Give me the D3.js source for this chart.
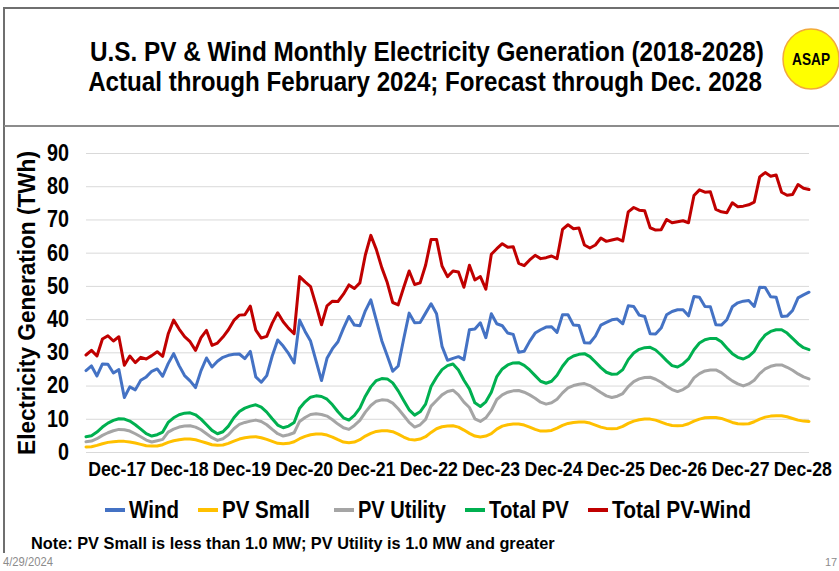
<!DOCTYPE html>
<html>
<head>
<meta charset="utf-8">
<script src="https://cdn.jsdelivr.net/npm/d3@7"></script>
<style>
  body { margin: 0; background: #fff; }
  svg { display: block; font-family: "Liberation Sans Narrow", "Arial Narrow", "Liberation Sans", Arial, sans-serif; }
</style>
</head>
<body>
<svg id="chart" width="839" height="571"></svg>
<script>
// Monthly values, Dec-17 .. Dec-28 (TWh)
var wind = [24.5,
  25.9,22.9,26.5,26.4,23.8,24.8,16.4,19.6,18.7,21.6,22.6,24.3,
  25.0,22.8,26.6,29.6,26.0,23.0,21.4,19.4,24.5,28.3,25.6,27.3,
  28.5,29.1,29.4,29.5,28.1,30.3,22.6,21.0,23.0,28.9,33.7,31.9,
  29.6,26.8,39.7,36.3,33.4,27.4,21.5,28.2,31.1,33.2,37.2,40.8,
  38.2,38.0,42.5,45.8,39.7,33.5,29.0,24.3,25.9,34.0,41.8,38.9,
  39.0,41.8,44.6,41.6,31.8,27.6,28.2,28.7,27.8,36.8,37.0,38.9,
  34.4,41.6,38.6,38.0,35.8,35.4,30.0,30.3,33.3,35.8,36.8,37.6,
  37.7,36.0,41.3,41.3,38.2,38.1,32.9,32.8,34.9,38.2,39.0,39.8,
  40.0,38.6,44.0,43.8,41.2,40.8,35.6,35.5,37.3,41.3,42.3,42.8,
  42.8,41.0,46.8,46.6,43.8,43.7,38.3,38.2,39.8,43.7,44.9,45.4,
  45.6,43.8,49.6,49.5,46.7,46.6,40.8,40.9,42.6,46.4,47.3,48.1];

var pvSmall = [1.5,
  1.6,2.0,2.5,2.9,3.1,3.2,3.2,3.0,2.7,2.3,1.9,1.8,
  1.8,2.2,2.9,3.4,3.7,3.9,3.9,3.7,3.2,2.7,2.2,2.0,
  2.1,2.6,3.3,3.9,4.3,4.5,4.6,4.3,3.8,3.2,2.6,2.5,
  2.6,3.1,4.0,4.7,5.2,5.4,5.4,5.1,4.5,3.7,3.0,2.8,
  3.0,3.7,4.8,5.6,6.2,6.4,6.4,6.1,5.4,4.5,3.8,3.6,
  3.9,4.6,5.9,7.0,7.6,7.8,7.9,7.5,6.6,5.6,4.8,4.5,
  4.8,5.5,6.9,7.8,8.2,8.4,8.4,8.1,7.5,6.8,6.3,6.3,
  6.5,7.2,8.0,8.6,8.9,9.0,9.0,8.7,8.1,7.5,7.1,7.0,
  7.1,7.7,8.6,9.3,9.7,9.9,9.9,9.6,9.0,8.4,8.0,7.9,
  8.0,8.5,9.3,9.9,10.3,10.4,10.4,10.1,9.5,8.9,8.5,8.4,
  8.5,9.1,9.9,10.5,10.8,10.9,10.9,10.6,10.1,9.6,9.3,9.2];

var pvUtility = [3.1,
  3.3,4.0,5.0,5.8,6.4,6.8,6.7,6.3,5.5,4.6,3.6,3.0,
  3.4,3.8,6.0,6.9,7.5,7.8,7.9,7.5,6.7,5.5,4.3,3.5,
  4.0,5.2,7.0,8.3,8.9,9.3,9.6,9.2,8.2,6.8,5.5,4.8,
  5.2,5.8,9.2,10.4,11.3,11.5,11.3,10.8,9.7,8.4,7.3,6.8,
  8.0,9.5,12.0,14.0,15.3,15.7,15.6,14.7,13.0,11.0,8.9,7.5,
  8.2,9.8,13.8,15.5,17.2,18.2,18.6,17.2,15.0,13.4,10.0,9.2,
  10.3,12.5,15.8,17.2,18.0,18.4,18.5,18.0,17.2,16.2,15.0,14.4,
  14.8,15.9,17.8,19.3,20.0,20.4,20.6,20.0,19.0,17.9,16.9,16.4,
  16.8,17.6,19.7,21.2,22.0,22.4,22.5,21.9,21.0,19.8,18.8,18.2,
  18.8,19.9,22.3,23.6,24.4,24.7,24.7,23.9,22.6,21.4,20.5,19.9,
  20.5,21.6,23.6,25.0,25.8,26.2,26.2,25.5,24.6,23.5,22.6,22.0];

var totalPV = [4.6,
  4.9,6.0,7.5,8.7,9.5,10.0,9.9,9.3,8.2,6.9,5.5,4.8,
  5.2,6.0,8.9,10.3,11.2,11.7,11.8,11.2,9.9,8.2,6.5,5.5,
  6.1,7.8,10.3,12.2,13.2,13.8,14.2,13.5,12.0,10.0,8.1,7.3,
  7.8,8.9,13.2,15.1,16.5,16.9,16.7,15.9,14.2,12.1,10.3,9.6,
  11.0,13.2,16.8,19.6,21.5,22.1,22.0,20.8,18.4,15.5,12.7,11.1,
  12.1,14.4,19.7,22.5,24.8,26.0,26.5,24.7,21.6,19.0,14.8,13.7,
  15.1,18.0,22.7,25.0,26.2,26.8,26.9,26.1,24.7,23.0,21.3,20.7,
  21.3,23.1,25.8,27.9,28.9,29.4,29.6,28.7,27.1,25.4,24.0,23.4,
  23.5,24.8,27.8,29.8,30.9,31.4,31.5,30.7,29.2,27.5,26.0,25.6,
  26.5,28.0,30.8,32.8,33.8,34.2,34.2,33.2,31.3,29.6,28.5,28.0,
  28.8,30.3,33.2,35.2,36.3,36.8,36.8,35.8,34.2,32.6,31.4,30.8];

var totalPVWind = [29.2,
  30.6,28.9,34.0,35.0,33.4,34.7,26.1,28.9,26.9,28.5,28.0,29.0,
  30.2,28.8,35.5,39.7,37.0,34.7,33.2,30.6,34.4,36.6,32.1,32.8,
  34.6,36.8,39.6,41.2,41.3,43.9,36.7,34.3,34.8,38.8,41.9,39.2,
  37.2,35.6,52.8,51.2,49.8,44.2,38.3,44.0,45.4,45.3,47.5,50.3,
  49.2,50.9,59.3,65.2,61.0,55.5,51.0,45.0,44.3,49.5,54.5,50.4,
  50.9,56.2,64.0,64.0,56.0,52.8,54.5,54.2,49.6,56.2,51.8,52.8,
  49.0,59.5,61.2,62.7,61.6,61.8,56.8,56.1,57.8,59.2,58.2,58.5,
  59.0,58.2,67.0,68.4,67.2,67.4,62.3,61.4,62.3,64.4,63.4,63.8,
  64.2,63.5,72.3,73.6,72.8,72.6,67.5,66.8,66.9,70.0,69.0,69.3,
  69.6,69.0,77.2,78.9,78.2,78.3,73.0,72.3,72.0,75.0,73.8,74.0,
  74.4,75.2,82.8,84.1,83.0,83.4,78.2,77.3,77.5,80.5,79.4,79.0];

var tickLabels = ["Dec-17","Dec-18","Dec-19","Dec-20","Dec-21","Dec-22",
                  "Dec-23","Dec-24","Dec-25","Dec-26","Dec-27","Dec-28"];
var yTicks = [0, 10, 20, 30, 40, 50, 60, 70, 80, 90];

var seriesNames = ["Wind", "PV Small", "PV Utility", "Total PV", "Total PV-Wind"];
var seriesColors = ["#4472C4", "#FFC000", "#A5A5A5", "#00B050", "#C00000"];
var seriesValues = [wind, pvSmall, pvUtility, totalPV, totalPVWind];

// month categories Dec-17 .. Dec-28
var fmt = d3.timeFormat("%b-%y");
var months = d3.timeMonth.range(new Date(2017, 11, 1), new Date(2029, 0, 1)).map(fmt);

var svg = d3.select("#chart");
var plot = { left: 86, right: 809, top: 153, bottom: 452 };

// squeeze a text horizontally so it spans `width` px (mimics the narrow font)
function fitText(g, width) {
  var t = g.select("text");
  var len = t.node().getComputedTextLength();
  t.attr("transform", "scale(" + (width / len) + ",1)");
}

// slide frame
svg.append("line").attr("x1", 4).attr("x2", 839).attr("y1", 8).attr("y2", 8)
  .attr("stroke", "#6f6f6f").attr("stroke-width", 2);
svg.append("line").attr("x1", 4).attr("x2", 4).attr("y1", 7).attr("y2", 553)
  .attr("stroke", "#6f6f6f").attr("stroke-width", 2);
svg.append("line").attr("x1", 4).attr("x2", 839).attr("y1", 126).attr("y2", 126)
  .attr("stroke", "#8c8c8c").attr("stroke-width", 2);

// title, two lines
var titleLines = ["U.S. PV & Wind Monthly Electricity Generation (2018-2028)",
                  "Actual through February 2024; Forecast through Dec. 2028"];
var titleY = [61, 91];
var titleX = [427, 425];
titleLines.forEach(function (s, i) {
  var g = svg.append("g").attr("transform", "translate(" + titleX[i] + "," + titleY[i] + ")");
  g.append("text").attr("text-anchor", "middle").attr("font-weight", "bold")
    .attr("font-size", 28).text(s);
  fitText(g, 674);
});

// ASAP badge
svg.append("ellipse").attr("cx", 811).attr("cy", 59).attr("rx", 28).attr("ry", 30)
  .attr("fill", "#FFFF00").attr("stroke", "#F2A93B").attr("stroke-width", 1.5);
var badge = svg.append("g").attr("transform", "translate(811,65)");
badge.append("text").attr("text-anchor", "middle")
  .attr("font-weight", "bold").attr("font-size", 16).text("ASAP");
fitText(badge, 38);

// scales
var x = d3.scalePoint().domain(months).range([plot.left, plot.right]);
var y = d3.scaleLinear().domain([0, 90]).range([plot.bottom, plot.top]);
var xLab = d3.scaleBand().domain(tickLabels).range([86, 834]);

// y axis + gridlines
var yAxis = svg.append("g")
  .attr("transform", "translate(" + plot.left + ",0)")
  .call(d3.axisLeft(y).tickValues(yTicks).tickSize(-(plot.right - plot.left)).tickPadding(17));
yAxis.select(".domain").remove();
yAxis.selectAll(".tick line").attr("stroke", "#d9d9d9").attr("stroke-width", 1);
yAxis.selectAll(".tick text")
  .attr("font-family", null).attr("font-size", 23).attr("font-weight", "bold").attr("fill", "#000")
  .attr("textLength", function (d) { return String(d).length * 11; })
  .attr("lengthAdjust", "spacingAndGlyphs");

// x axis labels
var xAxis = svg.append("g")
  .attr("transform", "translate(0," + plot.bottom + ")")
  .call(d3.axisBottom(xLab).tickSize(0).tickPadding(10));
xAxis.select(".domain").remove();
xAxis.selectAll(".tick text")
  .attr("font-family", null).attr("font-size", 20).attr("font-weight", "bold").attr("fill", "#000")
  .attr("textLength", 58).attr("lengthAdjust", "spacingAndGlyphs");

// y axis title
var yTitle = svg.append("g").attr("transform", "translate(35,303) rotate(-90)");
yTitle.append("text").attr("text-anchor", "middle").attr("font-weight", "bold")
  .attr("font-size", 23).text("Electricity Generation (TWh)");
fitText(yTitle, 304);

// lines
var line = d3.line()
  .x(function (d, i) { return x(months[i]); })
  .y(function (d) { return y(d); });

svg.append("g").selectAll("path")
  .data(seriesValues)
  .enter()
  .append("path")
  .attr("d", line)
  .attr("fill", "none")
  .attr("stroke", function (d, i) { return seriesColors[i]; })
  .attr("stroke-width", 3)
  .attr("stroke-linejoin", "round")
  .attr("stroke-linecap", "round");

// legend
var legendX = [105, 198, 334, 465, 588];
var legendTextLen = [50, 88, 88, 80, 139];
var legend = svg.append("g").attr("transform", "translate(0,510)");
seriesNames.forEach(function (name, i) {
  var it = legend.append("g").attr("transform", "translate(" + legendX[i] + ",0)");
  it.append("line").attr("x1", 0).attr("x2", 20).attr("y1", 0).attr("y2", 0)
    .attr("stroke", seriesColors[i]).attr("stroke-width", 4);
  var tg = it.append("g").attr("transform", "translate(24,8)");
  tg.append("text").attr("font-size", 24).attr("font-weight", "bold").text(name);
  fitText(tg, legendTextLen[i]);
});

// note and footer
var note = svg.append("g").attr("transform", "translate(31,549)");
note.append("text").attr("font-size", 17).attr("font-weight", "bold")
  .text("Note: PV Small is less than 1.0 MW; PV Utility is 1.0 MW and greater");
fitText(note, 524);

var dateG = svg.append("g").attr("transform", "translate(3,566)");
dateG.append("text").attr("font-size", 12).attr("fill", "#8c8c8c").text("4/29/2024");
fitText(dateG, 50);
svg.append("text").attr("x", 825).attr("y", 566)
  .attr("font-size", 11).attr("fill", "#8c8c8c").text("17");
</script>
</body>
</html>
